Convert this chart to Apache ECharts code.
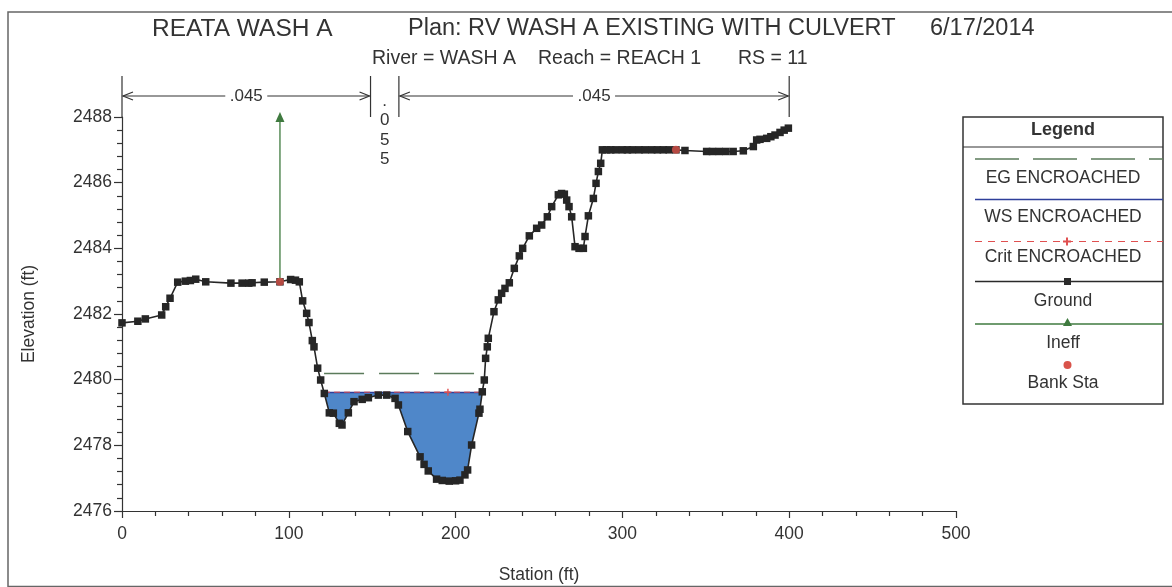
<!DOCTYPE html>
<html>
<head>
<meta charset="utf-8">
<title>REATA WASH A - RS 11</title>
<script src="https://cdn.jsdelivr.net/npm/echarts@6/dist/echarts.min.js"></script>
<style>
  html, body { margin: 0; padding: 0; background: #fff; }
  #chart { width: 1172px; height: 587px; }
</style>
</head>
<body>
<div id="chart"></div>
<script>
// Cross section RS 11, Reach 1 of Wash A
const groundStation = [
  0, 9.5, 14, 23.8, 26.2, 28.8, 33.4, 38, 41, 44.2, 50.2, 65.3, 72, 76, 78, 85.3, 94.7,
  101.1, 104, 106.3, 108.3, 110.7, 112.1, 114.1, 115.1, 117.3, 119.1, 121.3, 124.3, 126.7,
  130.3, 131.9, 135.7, 139.1, 144, 147.7, 153.7, 158.7, 163.7, 165.7, 171.3, 178.7, 181.1,
  183.6, 188.6, 192, 196.2, 200, 202.6, 205.6, 207.2, 209.6, 214.0, 214.6, 216.0, 217.2,
  218.0, 219.0, 219.6, 223, 225.6, 227.6, 229.6, 232.2, 235.2, 238.2, 240.2, 244.2, 248.6,
  251.6, 255.0, 257.6, 261.6, 263.5, 265.2, 266.6, 268.0, 269.6, 271.6, 274, 276.6, 277.6,
  279.6, 282.6, 284.2, 285.6, 287.0, 288.0, 290.5, 293, 296, 300, 303, 306, 310, 313.5,
  317.6, 321, 324.5, 328, 332.1, 337.5, 350.5, 354, 358, 362, 366.4, 372.5, 378.5, 380.5,
  382.5, 386.5, 389, 391.5, 394.5, 397, 399.5
];
const groundElev = [
  2481.73, 2481.78, 2481.85, 2481.97, 2482.22, 2482.48, 2482.97, 2483.0, 2483.02, 2483.06,
  2482.98, 2482.94, 2482.94, 2482.94, 2482.95, 2482.97, 2482.98,
  2483.05, 2483.03, 2482.98, 2482.4, 2482.02, 2481.74, 2481.19, 2481.0, 2480.35, 2479.99,
  2479.58, 2478.99, 2478.98, 2478.67, 2478.62, 2478.99, 2479.33, 2479.4, 2479.45, 2479.53,
  2479.53, 2479.43, 2479.23, 2478.42, 2477.65, 2477.42, 2477.22, 2476.97, 2476.93, 2476.91,
  2476.92, 2476.94, 2477.1, 2477.25, 2478.01, 2478.98, 2479.1, 2479.63, 2479.99, 2480.65,
  2481.0, 2481.26, 2482.07, 2482.43, 2482.63, 2482.78, 2482.95, 2483.39, 2483.77, 2484.0,
  2484.38, 2484.61, 2484.71, 2484.96, 2485.27, 2485.63, 2485.67, 2485.65, 2485.47, 2485.27,
  2484.96, 2484.05, 2484.0, 2484.0, 2484.36, 2484.99, 2485.52, 2485.98, 2486.34, 2486.59,
  2487.0, 2487.0, 2487.0, 2487.0, 2487.0, 2487.0, 2487.0, 2487.0, 2487.0, 2487.0, 2487.0,
  2487.0, 2487.0, 2487.0, 2486.98, 2486.95, 2486.95, 2486.95, 2486.95, 2486.95, 2486.97,
  2487.1, 2487.3, 2487.32, 2487.35, 2487.4, 2487.45, 2487.53, 2487.6, 2487.66
];

// Bank stations
const bankStation = [94.7, 332.1];
const bankElev = [2482.98, 2487.0];

// Ineffective flow limit (left overbank)
const ineffStation = [94.7, 94.7];
const ineffElev = [2482.98, 2488.0];

// Encroached profile results
const egElev = 2480.19;
const wsElev = 2479.61;
const critElev = 2479.62;
const critMarkStation = 195.4;

// Manning's n breaks and values
const nBreakStation = [0, 149, 166, 400];
const nValue = ['.045', '.055', '.045'];

const titleParts = ['REATA WASH A', 'Plan: RV WASH A EXISTING WITH CULVERT', '6/17/2014'];
const subtitleParts = ['River = WASH A', 'Reach = REACH 1', 'RS = 11'];
const legendItems = ['EG ENCROACHED', 'WS ENCROACHED', 'Crit ENCROACHED', 'Ground', 'Ineff', 'Bank Sta'];

const FONT = '"Liberation Sans", Arial, sans-serif';
const TXT = '#333';
const RED = '#e05050';

const groundPts = groundStation.map((s, i) => [s, groundElev[i]]);

// Where a horizontal level meets the ground around the channel low point
function levelEdges(level) {
  let lowIdx = 0;
  groundElev.forEach((e, i) => { if (e < groundElev[lowIdx]) lowIdx = i; });
  let li = lowIdx, ri = lowIdx;
  while (li > 0 && groundElev[li - 1] < level) li--;
  while (ri < groundElev.length - 1 && groundElev[ri + 1] < level) ri++;
  const interp = (a, b) => {
    const [s1, e1] = groundPts[a], [s2, e2] = groundPts[b];
    return s1 + (level - e1) * (s2 - s1) / (e2 - e1);
  };
  return { left: interp(li - 1, li), right: interp(ri, ri + 1), li, ri };
}

const ws = levelEdges(wsElev);
const waterPoly = [[ws.left, wsElev]]
  .concat(groundPts.slice(ws.li, ws.ri + 1))
  .concat([[ws.right, wsElev]]);

const plusPath = 'path://M4,0h2v4h4v2h-4v4h-2v-4h-4v-2h4z';

function plusPoints(cx, cy, a, t) {
  return [[cx - t, cy - a], [cx + t, cy - a], [cx + t, cy - t], [cx + a, cy - t], [cx + a, cy + t],
    [cx + t, cy + t], [cx + t, cy + a], [cx - t, cy + a], [cx - t, cy + t], [cx - a, cy + t],
    [cx - a, cy - t], [cx - t, cy - t]];
}

const chart = echarts.init(document.getElementById('chart'), null, { renderer: 'canvas' });

const titles = [
  { text: titleParts[0], left: 152, top: 17, size: 24.5 },
  { text: titleParts[1], left: 408, top: 17 },
  { text: titleParts[2], left: 930, top: 17 },
  { text: subtitleParts[0], left: 372, top: 49, size: 19.5 },
  { text: subtitleParts[1], left: 538, top: 49, size: 19.5 },
  { text: subtitleParts[2], left: 738, top: 49, size: 19.5 }
].map(t => ({
  text: t.text, left: t.left, top: t.top, padding: 0,
  textStyle: { fontFamily: FONT, fontSize: t.size || 23.5, fontWeight: 'normal', color: TXT }
}));

// Legend panel
const LX = 963, LW = 200, LCX = LX + LW / 2;
const legendGraphics = [
  { type: 'rect', shape: { x: LX, y: 117, width: LW, height: 287 },
    style: { fill: '#fff', stroke: '#333', lineWidth: 1.5 } },
  { type: 'text', style: { text: 'Legend', x: LCX, y: 130, align: 'center', verticalAlign: 'middle',
    font: 'bold 18px ' + FONT, fill: TXT } },
  { type: 'line', shape: { x1: LX, y1: 147, x2: LX + LW, y2: 147 }, style: { stroke: '#333', lineWidth: 1.2 } },
  { type: 'line', shape: { x1: 975, y1: 159, x2: LX + LW, y2: 159 },
    style: { stroke: '#5b7b5b', lineWidth: 1.4, lineDash: [44, 14] } },
  { type: 'line', shape: { x1: 975, y1: 199.5, x2: LX + LW, y2: 199.5 }, style: { stroke: '#2e3f9a', lineWidth: 1.4 } },
  { type: 'line', shape: { x1: 975, y1: 241.5, x2: LX + LW, y2: 241.5 },
    style: { stroke: RED, lineWidth: 1.2, lineDash: [7, 6] } },
  { type: 'polygon', shape: { points: plusPoints(1067, 241.5, 4, 1) }, style: { fill: RED } },
  { type: 'line', shape: { x1: 975, y1: 281.5, x2: LX + LW, y2: 281.5 }, style: { stroke: '#2a2a2a', lineWidth: 1.4 } },
  { type: 'rect', shape: { x: 1064, y: 278, width: 7, height: 7 }, style: { fill: '#2a2a2a' } },
  { type: 'line', shape: { x1: 975, y1: 324, x2: LX + LW, y2: 324 }, style: { stroke: '#3f7a3f', lineWidth: 1.4 } },
  { type: 'polygon', shape: { points: [[1067.5, 318], [1072, 326], [1063, 326]] }, style: { fill: '#3f7a3f' } },
  { type: 'circle', shape: { cx: 1067.5, cy: 365, r: 4 }, style: { fill: '#d9534a' } }
];
const legendTextY = [178, 217, 257, 301, 343, 383];
legendItems.forEach((t, i) => {
  legendGraphics.push({ type: 'text', style: { text: t, x: LCX, y: legendTextY[i], align: 'center',
    verticalAlign: 'middle', font: '17.5px ' + FONT, fill: TXT } });
});

// Outer frame
legendGraphics.push({ type: 'rect', shape: { x: 8, y: 12, width: 1200, height: 574.5 },
  style: { fill: 'none', stroke: '#666', lineWidth: 1.5 }, z: -1 });

const option = {
  animation: false,
  backgroundColor: '#fff',
  title: titles,
  grid: { left: 122, right: 216, top: 117, bottom: 76, containLabel: false, outerBoundsMode: 'none' },
  xAxis: {
    type: 'value', min: 0, max: 500, interval: 100,
    name: 'Station (ft)', nameLocation: 'middle', nameGap: 55,
    nameTextStyle: { fontFamily: FONT, fontSize: 17.5, color: TXT },
    axisLine: { show: true, lineStyle: { color: '#333', width: 1.2 } },
    axisTick: { show: true, length: 7, lineStyle: { color: '#333', width: 1.2 } },
    minorTick: { show: true, splitNumber: 5, length: 5, lineStyle: { color: '#333', width: 1.2 } },
    axisLabel: { fontFamily: FONT, fontSize: 17.5, color: TXT, margin: 14, formatter: v => String(v) },
    splitLine: { show: false }
  },
  yAxis: {
    type: 'value', min: 2476, max: 2488, interval: 2,
    name: 'Elevation (ft)', nameLocation: 'middle', nameGap: 84, nameRotate: 90,
    nameTextStyle: { fontFamily: FONT, fontSize: 17.5, color: TXT },
    axisLine: { show: true, lineStyle: { color: '#333', width: 1.2 } },
    axisTick: { show: true, length: 8, lineStyle: { color: '#333', width: 1.2 } },
    minorTick: { show: true, splitNumber: 5, length: 5, lineStyle: { color: '#333', width: 1.2 } },
    axisLabel: { fontFamily: FONT, fontSize: 17.5, color: TXT, margin: 10, formatter: v => String(v) },
    splitLine: { show: false }
  },
  graphic: legendGraphics,
  series: [
    {
      // water area below the encroached water surface
      type: 'custom', name: 'water', z: 1, silent: true,
      data: [[ws.left, wsElev]],
      renderItem: (params, api) => ({
        type: 'polygon',
        shape: { points: waterPoly.map(p => api.coord(p)) },
        style: { fill: '#4f87c9' }
      })
    },
    {
      // Manning's n annotation above the plot
      type: 'custom', name: 'n values', z: 3, silent: true, clip: false,
      data: [[0, 2488]],
      renderItem: (params, api) => {
        const top = api.coord([0, 2488])[1];
        const yArrow = top - 21, yTop = top - 41;
        const children = [];
        const xs = nBreakStation.map(s => api.coord([s, 2488])[0]);
        xs.forEach(x => children.push({ type: 'line', shape: { x1: x, y1: yTop, x2: x, y2: top },
          style: { stroke: '#333', lineWidth: 1.2 } }));
        for (let i = 0; i < nValue.length; i++) {
          const xl = xs[i] + 1, xr = xs[i + 1] - 1;
          const xm = (xl + xr) / 2;
          if (xr - xl > 80) {
            children.push(
              { type: 'line', shape: { x1: xl, y1: yArrow, x2: xm - 21, y2: yArrow }, style: { stroke: '#333', lineWidth: 1.2 } },
              { type: 'line', shape: { x1: xm + 21, y1: yArrow, x2: xr, y2: yArrow }, style: { stroke: '#333', lineWidth: 1.2 } },
              { type: 'polyline', shape: { points: [[xl + 10, yArrow - 4], [xl, yArrow], [xl + 10, yArrow + 4]] },
                style: { stroke: '#333', fill: 'none', lineWidth: 1.2 } },
              { type: 'polyline', shape: { points: [[xr - 10, yArrow - 4], [xr, yArrow], [xr - 10, yArrow + 4]] },
                style: { stroke: '#333', fill: 'none', lineWidth: 1.2 } },
              { type: 'text', style: { text: nValue[i], x: xm, y: yArrow, align: 'center', verticalAlign: 'middle',
                font: '17px ' + FONT, fill: TXT } }
            );
          } else {
            nValue[i].split('').forEach((ch, k) => children.push({
              type: 'text', style: { text: ch, x: xm, y: top - 16 + k * 19.5, align: 'center', verticalAlign: 'middle',
                font: '17px ' + FONT, fill: TXT }
            }));
          }
        }
        return { type: 'group', children };
      }
    },
    {
      name: 'EG ENCROACHED', type: 'line', z: 3, symbol: 'none', silent: true,
      data: [[ws.left, egElev], [ws.right, egElev]],
      lineStyle: { color: '#5b7b5b', width: 1.5, type: [40, 15] }
    },
    {
      name: 'WS ENCROACHED', type: 'line', z: 3, symbol: 'none', silent: true,
      data: [[ws.left, wsElev], [ws.right, wsElev]],
      lineStyle: { color: '#2e3f9a', width: 1.5 }
    },
    {
      name: 'Crit ENCROACHED', type: 'line', z: 4, silent: true,
      showSymbol: true,
      data: [
        { value: [ws.left, critElev], symbol: 'none' },
        { value: [critMarkStation, critElev], symbol: plusPath, symbolSize: 7 },
        { value: [ws.right, critElev], symbol: 'none' }
      ],
      itemStyle: { color: RED },
      lineStyle: { color: RED, width: 1, type: [6, 4] }
    },
    {
      name: 'Ground', type: 'line', z: 5, silent: true,
      data: groundPts,
      symbol: 'rect', symbolSize: 7.5, showAllSymbol: true,
      itemStyle: { color: '#262626' },
      lineStyle: { color: '#262626', width: 1.6 }
    },
    {
      name: 'Ineff', type: 'line', z: 6, silent: true, clip: false,
      data: [
        { value: [ineffStation[0], ineffElev[0]], symbol: 'none' },
        { value: [ineffStation[1], ineffElev[1]], symbol: 'triangle', symbolSize: [9, 10] }
      ],
      itemStyle: { color: '#3f7a3f' },
      lineStyle: { color: '#3f7a3f', width: 1.3 }
    },
    {
      name: 'Bank Sta', type: 'scatter', z: 7, silent: true,
      data: bankStation.map((s, i) => [s, bankElev[i]]),
      symbol: 'circle', symbolSize: 8,
      itemStyle: { color: '#d9534a' }
    }
  ]
};

chart.setOption(option);
</script>
</body>
</html>
